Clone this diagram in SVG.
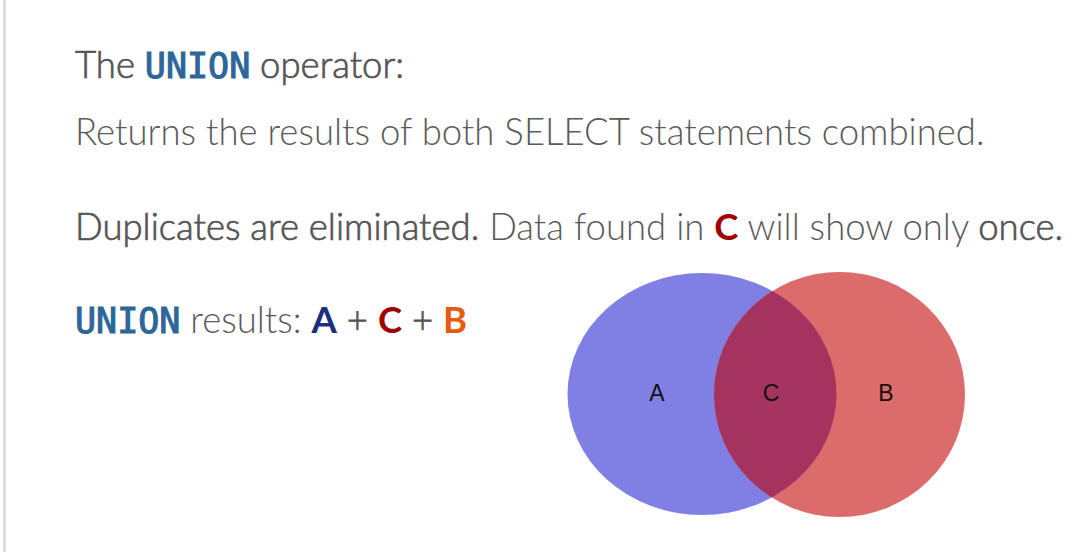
<svg xmlns="http://www.w3.org/2000/svg" width="1072" height="552" viewBox="0 0 1072 552">
<style>
.t{font-family:Lato,"Liberation Sans",sans-serif;font-size:36.5px;fill:#5a5a5a;font-weight:300}
.n{fill:#555555;stroke:#555555;stroke-width:0.7px}
.code{font-family:"DejaVu Sans Mono",monospace;font-weight:normal;fill:#2f6699;font-size:35px;stroke:#2f6699;stroke-width:1.1px}
.b{font-weight:bold}
.lbl{font-family:"Liberation Sans",Arial,sans-serif;font-size:23px;fill:#111}
</style>
<defs>
<clipPath id="clipA"><ellipse cx="702" cy="394" rx="134.5" ry="121"/></clipPath>
</defs>
<rect width="1072" height="552" fill="#ffffff"/>
<rect x="3" y="0" width="3" height="552" fill="#dddddd"/>
<g id="text">
<text class="t" x="75" y="78"><tspan class="n">The </tspan><tspan class="code">UNION</tspan><tspan class="n"> operator:</tspan></text>
<text class="t" x="75" y="145">Returns the results of both SELECT statements combined.</text>
<text class="t" x="75" y="240"><tspan class="n">Duplicates are eliminated.</tspan> Data found in <tspan class="b" fill="#a00000">C</tspan> will show only <tspan class="n">once.</tspan></text>
<text class="t" x="75" y="333"><tspan class="code">UNION</tspan> results: <tspan class="b" fill="#1c2f7c">A</tspan><tspan class="n"> + </tspan><tspan class="b" fill="#a00000">C</tspan><tspan class="n"> + </tspan><tspan class="b" fill="#e85a0c">B</tspan></text>
</g>
<g id="setA"><ellipse cx="702" cy="394" rx="134.5" ry="121" fill="#8080e4"/></g>
<g id="setB"><ellipse cx="839.5" cy="394.5" rx="125.5" ry="122.5" fill="#dc6c6c"/></g>
<g id="setC"><ellipse cx="839.5" cy="394.5" rx="125.5" ry="122.5" fill="#a4345f" clip-path="url(#clipA)"/></g>
<g id="labels">
<text class="lbl" x="657" y="401" text-anchor="middle">A</text>
<text class="lbl" x="771" y="401" text-anchor="middle">C</text>
<text class="lbl" x="886" y="401" text-anchor="middle">B</text>
</g>
</svg>
